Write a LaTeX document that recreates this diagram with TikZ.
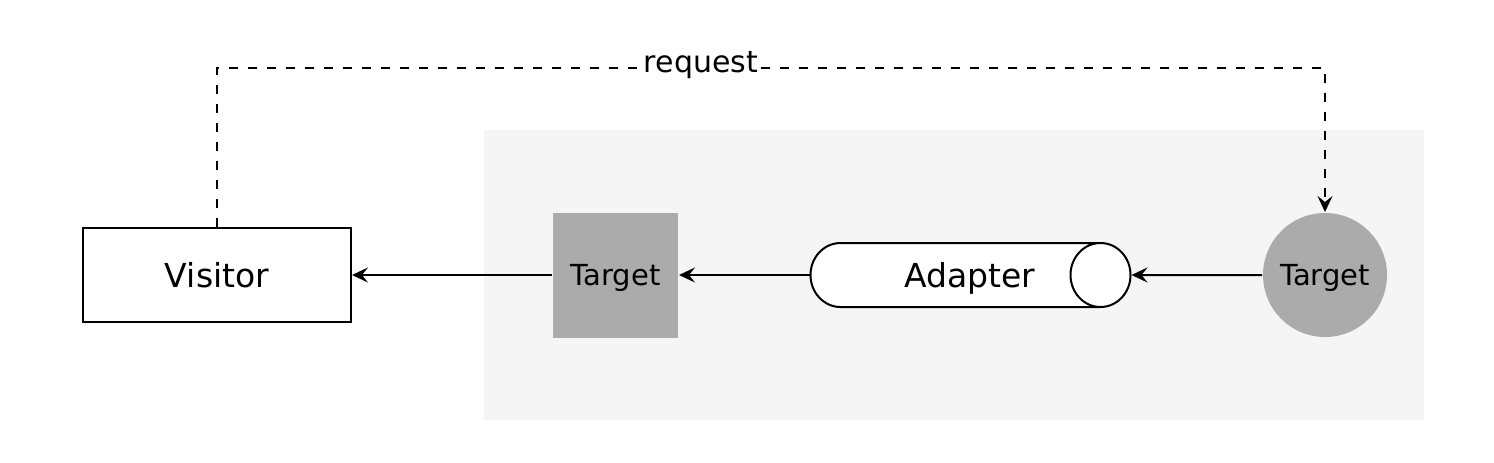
\documentclass[tikz,border=0pt]{standalone}
\usepackage{fontspec}
\setmainfont{DejaVu Sans}
\usetikzlibrary{arrows.meta}
\usetikzlibrary{shapes.geometric}

\begin{document}
\begin{tikzpicture}[->,>={Stealth[length=8pt,width=7.5pt,inset=3pt]},x=0.5pt, y=-0.5pt, line width=1pt]
\tikzset{box/.style={draw,rectangle,fill=white,minimum width=134pt,minimum height=47pt,inner sep=0,
  text height=12pt,text depth=0pt,font=\fontsize{16.5}{18}\selectfont}}
\tikzset{target/.style={fill=black!33,inner sep=0,text height=10.6pt,text depth=0pt,font=\fontsize{14.5}{16}\selectfont}}

\useasboundingbox (0,0) rectangle (1494,462);

% region holding the adapter chain
\fill[black!4] (484,130) rectangle (1424,420);

\node[box] (visitor) at (217,275) {Visitor};
\node[target,rectangle,minimum size=62.5pt] (tsquare) at (615.5,275) {Target};
\node[draw,fill=white,cylinder,aspect=2.5,minimum height=160pt,minimum width=32pt,inner sep=0,
      text height=12pt,text depth=0pt,font=\fontsize{16.5}{18}\selectfont] (adapter) at (955,275) {\hspace*{15pt}Adapter};
\node[target,circle,minimum size=62pt] (tcircle) at (1325,275) {Target};

\draw (tcircle) -- (adapter);
\draw (adapter) -- (tsquare);
\draw (tsquare) -- (visitor);

\coordinate (up1) at (217,68);
\coordinate (up2) at (1325,68);
\draw[dash pattern=on 4.5pt off 5pt] (visitor.north) -- (up1) -- (up2) -- (tcircle.north);
\node[fill=white,inner sep=1pt,font=\fontsize{15}{16}\selectfont] (req) at (701,65) {request};

\end{tikzpicture}
\end{document}
